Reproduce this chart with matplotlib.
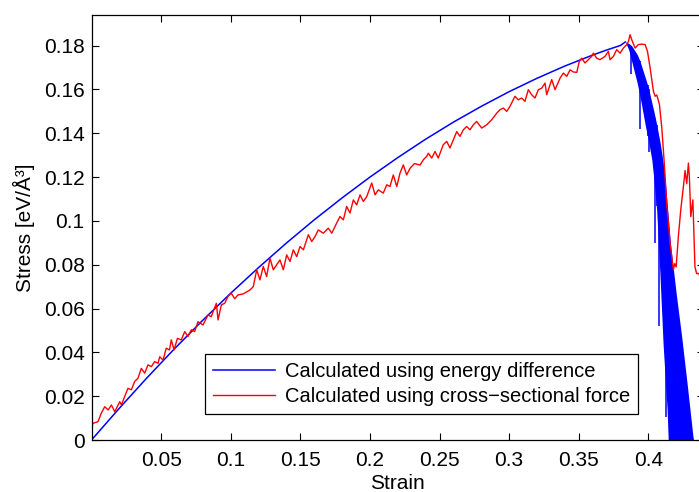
import matplotlib
matplotlib.use("Agg")
import matplotlib.pyplot as plt
from matplotlib.ticker import FormatStrFormatter

plt.rcParams['font.family'] = ['Liberation Sans', 'DejaVu Sans']

# energy difference curve, rising part
energy_x = [0.0, 0.02, 0.04, 0.06, 0.08, 0.10, 0.12, 0.14, 0.16, 0.18, 0.20,
            0.22, 0.24, 0.26, 0.28, 0.30, 0.32, 0.34, 0.36, 0.37, 0.38, 0.3835]
energy_y = [0.0, 0.0145, 0.0285, 0.0419, 0.0547, 0.067, 0.0787, 0.0899, 0.1005,
            0.1105, 0.120, 0.1289, 0.1373, 0.1451, 0.1523, 0.159, 0.1651, 0.1707,
            0.1757, 0.178, 0.1801, 0.1817]

# energy difference curve after the peak: dense oscillation band
drop_x = [0.3835, 0.386, 0.388, 0.390, 0.392, 0.394, 0.396, 0.398, 0.400, 0.4025,
          0.404, 0.406, 0.4084, 0.4106, 0.4125, 0.4135, 0.4143, 0.416, 0.420,
          0.424, 0.428, 0.432, 0.4325]
drop_upper = [0.1817, 0.181, 0.180, 0.178, 0.176, 0.173, 0.169, 0.165, 0.161, 0.154,
              0.150, 0.144, 0.136, 0.127, 0.116, 0.108, 0.102, 0.089, 0.067,
              0.047, 0.025, 0.002, 0.0]
drop_lower = [0.1817, 0.178, 0.173, 0.168, 0.163, 0.157, 0.150, 0.143, 0.137, 0.128,
              0.119, 0.105, 0.075, 0.044, 0.024, 0.014, 0.0, -0.01, -0.01,
              -0.01, -0.01, -0.01, -0.01]

# single deeper spikes of the energy curve
spike_x = [0.3876, 0.394, 0.3996, 0.4003, 0.405, 0.406, 0.408, 0.413]
spike_bottom = [0.167, 0.142, 0.1386, 0.1315, 0.090, 0.1066, 0.052, 0.0107]
spike_top = [0.180, 0.173, 0.162, 0.160, 0.147, 0.144, 0.137, 0.112]

# cross-sectional force curve
force_x = [0.0005, 0.001, 0.0047, 0.007, 0.0095, 0.012, 0.0143, 0.0167, 0.0203, 0.0215,
           0.0238, 0.0262, 0.0286, 0.031, 0.0334, 0.0358, 0.0382, 0.0406, 0.043, 0.0454,
           0.0478, 0.049, 0.0514, 0.0537, 0.056, 0.0573, 0.0593, 0.0617, 0.0645, 0.067,
           0.0693, 0.0717, 0.0741, 0.0765, 0.0801, 0.0837, 0.086, 0.0897, 0.0909, 0.0933,
           0.0957, 0.098, 0.1004, 0.1029, 0.1052, 0.109, 0.1139, 0.1162, 0.1187, 0.121,
           0.1234, 0.1258, 0.1282, 0.1306, 0.133, 0.1354, 0.1378, 0.1402, 0.1426, 0.145,
           0.1474, 0.1498, 0.1522, 0.1558, 0.1582, 0.1606, 0.1629, 0.1665, 0.1701, 0.1726,
           0.1761, 0.1785, 0.1809, 0.1833, 0.1857, 0.1881, 0.1905, 0.1929, 0.1953, 0.1977,
           0.2013, 0.2037, 0.206, 0.2096, 0.2121, 0.2144, 0.2168, 0.2193, 0.2216, 0.224,
           0.2264, 0.2288, 0.232, 0.236, 0.2385, 0.2407, 0.242, 0.2444, 0.2468, 0.2491,
           0.2527, 0.2552, 0.2575, 0.2599, 0.2624, 0.2647, 0.2671, 0.2695, 0.2719, 0.2743,
           0.2767, 0.2803, 0.2839, 0.2875, 0.2911, 0.2935, 0.2959, 0.2983, 0.3006, 0.3042,
           0.3066, 0.309, 0.3114, 0.3138, 0.3162, 0.3186, 0.321, 0.3234, 0.3258, 0.327,
           0.3306, 0.333, 0.3366, 0.339, 0.3414, 0.3438, 0.3461, 0.3486, 0.3504, 0.3522,
           0.3545, 0.3569, 0.3593, 0.3605, 0.3629, 0.3653, 0.3689, 0.3713, 0.3725, 0.3749,
           0.3773, 0.3797, 0.3821, 0.3845, 0.3857, 0.3869, 0.3881, 0.3905, 0.3929, 0.3953,
           0.3977, 0.3994, 0.4013, 0.4037, 0.4049, 0.4061, 0.408, 0.4097, 0.4115, 0.4132,
           0.4156, 0.418, 0.419, 0.420, 0.4216, 0.4233, 0.4252, 0.4264, 0.4276, 0.4288,
           0.4295, 0.4305, 0.432, 0.4335, 0.4347, 0.4364, 0.438]
force_y = [0.0065, 0.0076, 0.0084, 0.0122, 0.0152, 0.0137, 0.0160, 0.0129, 0.0175, 0.0160,
           0.0198, 0.0236, 0.0229, 0.0267, 0.0282, 0.0327, 0.0305, 0.0343, 0.0335, 0.0358,
           0.0350, 0.0380, 0.0365, 0.0419, 0.0411, 0.0457, 0.0411, 0.0464, 0.0457, 0.0495,
           0.0472, 0.0503, 0.0495, 0.0540, 0.0525, 0.0571, 0.0563, 0.0624, 0.0548, 0.0617,
           0.0624, 0.0655, 0.0670, 0.0645, 0.0662, 0.0667, 0.0685, 0.0700, 0.0777, 0.0731,
           0.0792, 0.0746, 0.0830, 0.0777, 0.0800, 0.0822, 0.0777, 0.0845, 0.0815, 0.0868,
           0.0837, 0.0883, 0.0868, 0.0937, 0.0906, 0.0929, 0.0959, 0.0944, 0.0967, 0.0944,
           0.0990, 0.1020, 0.1005, 0.1066, 0.1036, 0.1096, 0.1073, 0.1119, 0.1089, 0.1111,
           0.1173, 0.1119, 0.1142, 0.1127, 0.1165, 0.1157, 0.1210, 0.1157, 0.1218, 0.1256,
           0.1210, 0.1240, 0.1262, 0.1255, 0.1280, 0.1294, 0.1309, 0.1287, 0.1317, 0.1287,
           0.1348, 0.1363, 0.1333, 0.1370, 0.1408, 0.1386, 0.1416, 0.1431, 0.1416, 0.1439,
           0.1454, 0.1424, 0.1439, 0.1462, 0.1492, 0.1508, 0.1515, 0.1500, 0.1523, 0.1569,
           0.1553, 0.1561, 0.1546, 0.1599, 0.1576, 0.1561, 0.1599, 0.1606, 0.1629, 0.1576,
           0.1645, 0.1599, 0.1652, 0.1675, 0.1660, 0.1690, 0.1680, 0.1678, 0.1728, 0.1743,
           0.1721, 0.1736, 0.1751, 0.1766, 0.1743, 0.1736, 0.1751, 0.1774, 0.1736, 0.1751,
           0.1782, 0.1766, 0.1789, 0.1805, 0.1819, 0.1850, 0.1827, 0.1789, 0.1805, 0.1807,
           0.1805, 0.1774, 0.1698, 0.1591, 0.1569, 0.1575, 0.1531, 0.1424, 0.1260, 0.1080,
           0.0900, 0.0777, 0.0805, 0.0790, 0.0930, 0.1050, 0.1157, 0.1230, 0.1170, 0.1264,
           0.1200, 0.1020, 0.1096, 0.0790, 0.0760, 0.0760, 0.0720]

x_ticks = [0.05, 0.1, 0.15, 0.2, 0.25, 0.3, 0.35, 0.4]
y_ticks = [0, 0.02, 0.04, 0.06, 0.08, 0.1, 0.12, 0.14, 0.16, 0.18]

blue = '#0000ff'
red = '#ff0000'

fig = plt.figure(figsize=(6.99, 4.92), dpi=100)
ax = fig.add_axes([91.5 / 699, 52 / 492, 612.5 / 699, 425 / 492])

ax.plot(energy_x, energy_y, color=blue, lw=1.1,
        label='Calculated using energy difference')
ax.fill_between(drop_x, drop_lower, drop_upper, color=blue, lw=0)
ax.vlines(spike_x, spike_bottom, spike_top, color=blue, lw=1.1)
ax.plot(force_x, force_y, color=red, lw=1.0,
        label='Calculated using cross\u2212sectional force')

ax.set_xlim(0, 0.44)
ax.set_ylim(0, 0.194)
ax.set_xticks(x_ticks)
ax.set_yticks(y_ticks)
ax.xaxis.set_major_formatter(FormatStrFormatter('%g'))
ax.yaxis.set_major_formatter(FormatStrFormatter('%g'))
ax.tick_params(direction='in', length=5, width=0.8, top=True, right=True,
               labelsize=15)
ax.tick_params(axis='x', pad=8)
ax.tick_params(axis='y', pad=5)
for sp in ax.spines.values():
    sp.set_linewidth(0.9)

ax.set_xlabel('Strain', fontsize=15, labelpad=3)
ax.set_ylabel('Stress [eV/\u00c5\u00b3]', fontsize=15, labelpad=6)

leg = ax.legend(loc='upper left', bbox_to_anchor=(0.1853, 0.2024), borderaxespad=0,
                fontsize=14.5, frameon=True, fancybox=False, framealpha=1,
                edgecolor='black', handlelength=3.1, handletextpad=0.45,
                labelspacing=0.3, borderpad=0.4)
leg.get_frame().set_linewidth(0.9)

fig.savefig('out.png', dpi=100)
